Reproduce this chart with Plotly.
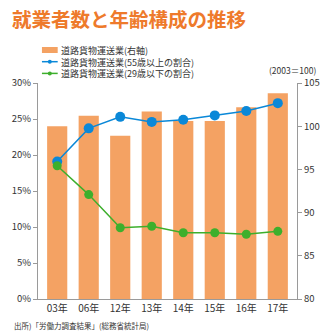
import plotly.graph_objects as go

categories = ["03年", "06年", "12年", "13年", "14年", "15年", "16年", "17年"]
index_values = [100.0, 101.2, 98.9, 101.7, 100.6, 100.6, 102.2, 103.8]
over55_pct = [19.1, 23.7, 25.3, 24.6, 24.9, 25.5, 26.1, 27.2]
under29_pct = [18.5, 14.5, 9.9, 10.1, 9.2, 9.2, 9.0, 9.4]

legend_labels = ["道路貨物運送業(右軸)", "道路貨物運送業(55歳以上の割合)", "道路貨物運送業(29歳以下の割合)"]
title_text = "就業者数と年齢構成の推移"
source_text = "出所)「労働力調査結果」(総務省統計局)"
unit_text = "(2003＝100)"

BAR = "#F4A263"
BLUE = "#0A88D8"
GREEN = "#3DAF2C"
AX = "#9A9A9A"
TXT = "#333333"
FONT = "Noto Sans CJK JP"

W, H = 332, 334
L, R, T, B = 34, 297, 83, 299


def px(x):
    return (x - L) / (R - L)


def py(y):
    return (B - y) / (B - T)


fig = go.Figure()
fig.add_trace(go.Bar(x=categories, y=index_values, marker_color=BAR,
                     marker_line_width=0, yaxis="y", showlegend=False))
fig.add_trace(go.Scatter(x=categories, y=over55_pct, yaxis="y2", mode="lines+markers",
                         line=dict(color=BLUE, width=1.5),
                         marker=dict(color=BLUE, size=10), showlegend=False))
fig.add_trace(go.Scatter(x=categories, y=under29_pct, yaxis="y2", mode="lines+markers",
                         line=dict(color=GREEN, width=1.5),
                         marker=dict(color=GREEN, size=9), showlegend=False))

shapes = []
annotations = []
# custom legend
shapes.append(dict(type="rect", xref="paper", yref="paper",
                   x0=px(38), x1=px(54), y0=py(53), y1=py(47),
                   fillcolor=BAR, line_width=0))
for yy, col in [(61.7, BLUE), (73.4, GREEN)]:
    shapes.append(dict(type="line", xref="paper", yref="paper",
                       x0=px(38), x1=px(54), y0=py(yy), y1=py(yy),
                       line=dict(color=col, width=1.5)))
    shapes.append(dict(type="circle", xref="paper", yref="paper",
                       x0=px(44), x1=px(48), y0=py(yy + 2), y1=py(yy - 2),
                       fillcolor=col, line_width=0))
annotations.append(dict(text="<br>".join(legend_labels), xref="paper", yref="paper",
                        x=px(55), y=py(61.7), xanchor="left", yanchor="middle",
                        align="left", showarrow=False,
                        font=dict(size=9, color=TXT, family=FONT)))

annotations.append(dict(text="<b>" + title_text + "</b>", xref="paper", yref="paper",
                        x=px(6), y=py(18), xanchor="left", yanchor="middle", showarrow=False,
                        font=dict(size=19.5, color="#EE7A2B", family=FONT)))
annotations.append(dict(text=unit_text, xref="paper", yref="paper", x=px(318), y=py(70),
                        xanchor="right", yanchor="middle", showarrow=False,
                        font=dict(size=8.5, color=TXT, family=FONT)))
annotations.append(dict(text=source_text, xref="paper", yref="paper", x=px(8), y=py(325),
                        xanchor="left", yanchor="middle", showarrow=False,
                        font=dict(size=7.5, color=TXT, family=FONT)))

fig.update_layout(
    width=W, height=H,
    margin=dict(l=L, r=W - R, t=T, b=H - B, pad=0),
    paper_bgcolor="white", plot_bgcolor="white",
    bargap=0.36,
    font=dict(family=FONT, size=9.5, color=TXT),
    xaxis=dict(showline=True, linecolor=AX, linewidth=1, ticks="", showgrid=False,
               tickfont=dict(size=10, color=TXT)),
    yaxis=dict(side="right", range=[80, 105], tickvals=[80, 85, 90, 95, 100, 105],
               showline=True, linecolor=AX, linewidth=1, ticks="outside", ticklen=4,
               tickcolor=AX, showgrid=False, zeroline=False,
               tickfont=dict(size=9.5, color=TXT)),
    yaxis2=dict(side="left", overlaying="y", range=[0, 30],
                tickvals=[0, 5, 10, 15, 20, 25, 30],
                ticktext=["0%", "5%", "10%", "15%", "20%", "25%", "30%"],
                showline=True, linecolor=AX, linewidth=1, ticks="outside", ticklen=4,
                tickcolor=AX, showgrid=False, zeroline=False,
                tickfont=dict(size=9.5, color=TXT)),
    shapes=shapes, annotations=annotations,
)

fig.write_html("out.html")
